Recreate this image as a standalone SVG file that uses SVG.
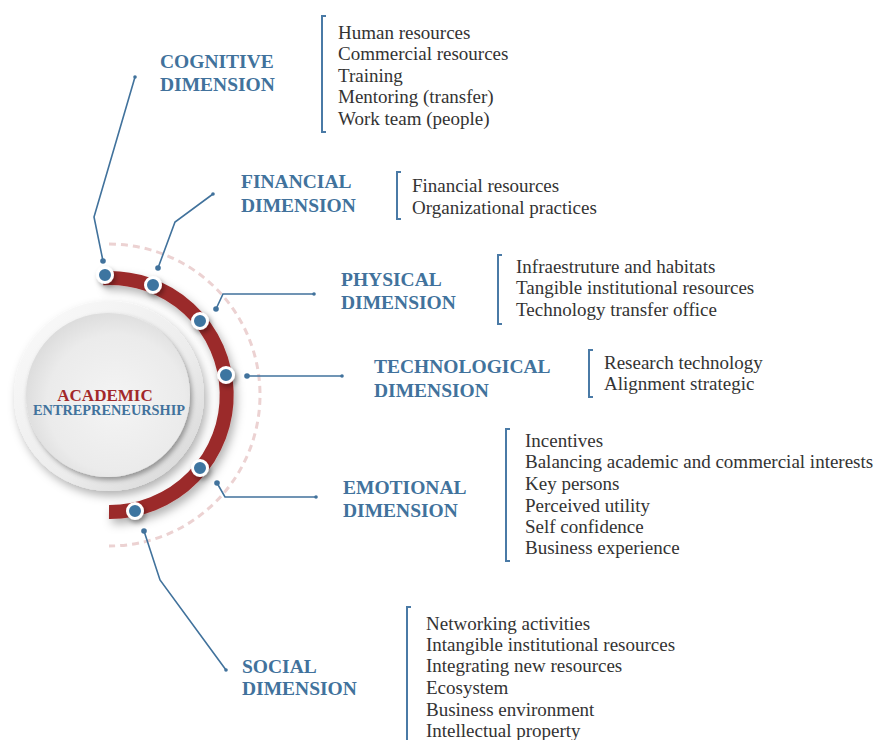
<svg xmlns="http://www.w3.org/2000/svg" width="877" height="740" viewBox="0 0 877 740">
<defs>
<style>
.lbl{font-family:"Liberation Serif","Times New Roman",serif;font-weight:bold;font-size:19.5px;fill:#41729c}
.itm{font-family:"Liberation Serif","Times New Roman",serif;font-size:19px;fill:#333333}
.brk{fill:none;stroke:#4a7aa6;stroke-width:2}
.con{fill:none;stroke:#41729c;stroke-width:1.6}
.end{fill:#41729c}
.dot{fill:#3d74a0;stroke:#ffffff;stroke-width:3;filter:url(#sh2)}
</style>
<filter id="sh" x="-30%" y="-30%" width="160%" height="160%">
<feDropShadow dx="3" dy="5" stdDeviation="5" flood-color="#000" flood-opacity="0.3"/>
</filter>
<filter id="sh2" x="-80%" y="-80%" width="260%" height="260%">
<feDropShadow dx="2" dy="3" stdDeviation="2.5" flood-color="#000" flood-opacity="0.35"/>
</filter>
<linearGradient id="ring" x1="0" y1="0" x2="1" y2="1">
<stop offset="0" stop-color="#fbfbfb"/>
<stop offset="0.6" stop-color="#ececec"/>
<stop offset="1" stop-color="#d4d4d4"/>
</linearGradient>
<radialGradient id="disk" cx="0.55" cy="0.55" r="0.6">
<stop offset="0" stop-color="#f4f4f4"/>
<stop offset="0.7" stop-color="#ebebeb"/>
<stop offset="1" stop-color="#d9d9d9"/>
</radialGradient>
</defs>
<rect width="877" height="740" fill="#ffffff"/>

<g id="center">
<path d="M109,244 A151,151 0 0 1 109,546" fill="none" stroke="#ecd2d2" stroke-width="3" stroke-dasharray="7 5"/>
<circle cx="109" cy="396" r="95" fill="url(#ring)" filter="url(#sh)"/>
<circle cx="108" cy="395" r="82" fill="url(#disk)" filter="url(#sh2)"/>
<path d="M102.9,278.2 A117,117 0 1 1 109,512" fill="none" stroke="#9b2a2a" stroke-width="14" filter="url(#sh)"/>
<text x="105" y="401" text-anchor="middle" font-family="Liberation Serif, Times New Roman, serif" font-weight="bold" font-size="17" fill="#a2292b">ACADEMIC</text>
<text x="33" y="415" font-family="Liberation Serif, Times New Roman, serif" font-weight="bold" font-size="15" fill="#41729c" textLength="152" lengthAdjust="spacingAndGlyphs">ENTREPRENEURSHIP</text>
</g>

<g id="connectors">
<polyline class="con" points="103,261 94,217 135,77"/>
<circle class="end" cx="103" cy="261" r="2.8"/><circle class="end" cx="135" cy="77" r="1.8"/>
<polyline class="con" points="158,268 175,222 213,194"/>
<circle class="end" cx="158" cy="268" r="2.8"/><circle class="end" cx="213" cy="194" r="1.8"/>
<polyline class="con" points="216,309 223,294 314,294"/>
<circle class="end" cx="216" cy="309" r="2.8"/><circle class="end" cx="314" cy="294" r="1.8"/>
<polyline class="con" points="247,376 342,376"/>
<circle class="end" cx="247" cy="376" r="2.8"/><circle class="end" cx="342" cy="376" r="1.8"/>
<polyline class="con" points="217,483 225,497 316,497"/>
<circle class="end" cx="217" cy="483" r="2.8"/><circle class="end" cx="316" cy="497" r="1.8"/>
<polyline class="con" points="144,531 160,580 226,670"/>
<circle class="end" cx="144" cy="531" r="2.8"/><circle class="end" cx="226" cy="670" r="1.8"/>
</g>

<g id="arc-dots">
<circle class="dot" cx="105" cy="275" r="7.5"/>
<circle class="dot" cx="153" cy="285" r="7.5"/>
<circle class="dot" cx="200" cy="321" r="7.5"/>
<circle class="dot" cx="226" cy="375" r="7.5"/>
<circle class="dot" cx="200" cy="468" r="7.5"/>
<circle class="dot" cx="135" cy="511" r="7.5"/>
</g>

<g id="cognitive">
<text class="lbl" x="160" y="68">COGNITIVE</text>
<text class="lbl" x="160" y="91">DIMENSION</text>
<polyline class="brk" points="326,16 322,16 322,132 326,132"/>
<text class="itm" x="338" y="38.5">Human resources</text>
<text class="itm" x="338" y="60">Commercial resources</text>
<text class="itm" x="338" y="81.5">Training</text>
<text class="itm" x="338" y="103">Mentoring (transfer)</text>
<text class="itm" x="338" y="125">Work team (people)</text>
</g>

<g id="financial">
<text class="lbl" x="241" y="188">FINANCIAL</text>
<text class="lbl" x="241" y="212">DIMENSION</text>
<polyline class="brk" points="401,172 397,172 397,219 401,219"/>
<text class="itm" x="412" y="191.5">Financial resources</text>
<text class="itm" x="412" y="213.5">Organizational practices</text>
</g>

<g id="physical">
<text class="lbl" x="341" y="286">PHYSICAL</text>
<text class="lbl" x="341" y="309">DIMENSION</text>
<polyline class="brk" points="502,255 498,255 498,324 502,324"/>
<text class="itm" x="516" y="272.5">Infraestruture and habitats</text>
<text class="itm" x="516" y="294">Tangible institutional resources</text>
<text class="itm" x="516" y="315.5">Technology transfer office</text>
</g>

<g id="technological">
<text class="lbl" x="374" y="373">TECHNOLOGICAL</text>
<text class="lbl" x="374" y="397">DIMENSION</text>
<polyline class="brk" points="593,350 589,350 589,397 593,397"/>
<text class="itm" x="604" y="368.5">Research technology</text>
<text class="itm" x="604" y="390">Alignment strategic</text>
</g>

<g id="emotional">
<text class="lbl" x="343" y="494">EMOTIONAL</text>
<text class="lbl" x="343" y="517">DIMENSION</text>
<polyline class="brk" points="510,429 506,429 506,561 510,561"/>
<text class="itm" x="525" y="446.5">Incentives</text>
<text class="itm" x="525" y="468">Balancing academic and commercial interests</text>
<text class="itm" x="525" y="490">Key persons</text>
<text class="itm" x="525" y="511.5">Perceived utility</text>
<text class="itm" x="525" y="533">Self confidence</text>
<text class="itm" x="525" y="554">Business experience</text>
</g>

<g id="social">
<text class="lbl" x="242" y="673">SOCIAL</text>
<text class="lbl" x="242" y="695">DIMENSION</text>
<polyline class="brk" points="411,607 407,607 407,742"/>
<text class="itm" x="426" y="629.5">Networking activities</text>
<text class="itm" x="426" y="650.5">Intangible institutional resources</text>
<text class="itm" x="426" y="672">Integrating new resources</text>
<text class="itm" x="426" y="694">Ecosystem</text>
<text class="itm" x="426" y="715.5">Business environment</text>
<text class="itm" x="426" y="737">Intellectual property</text>
</g>
</svg>
